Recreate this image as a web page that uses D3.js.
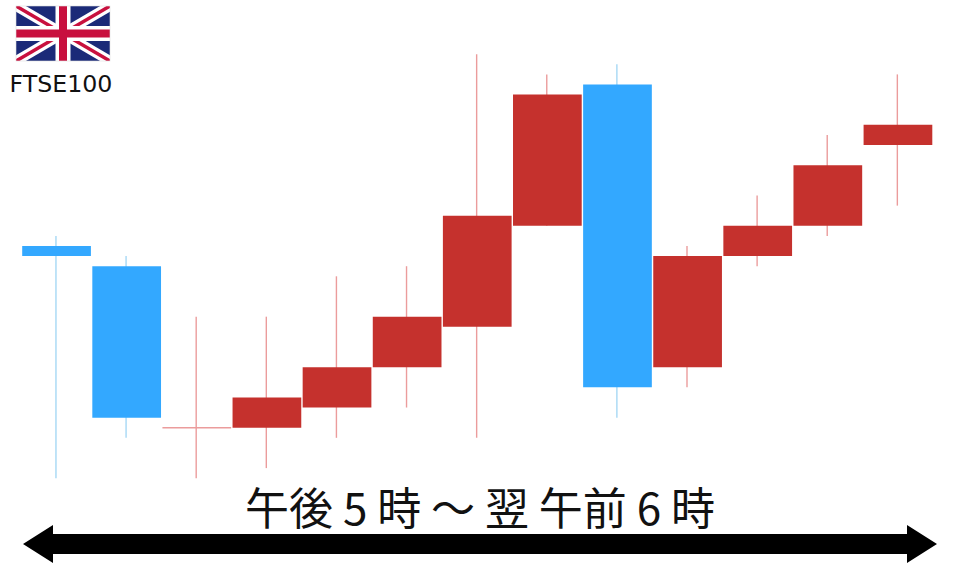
<!DOCTYPE html>
<html lang="ja"><head><meta charset="utf-8">
<script src="https://cdn.jsdelivr.net/npm/d3@7"></script>
<style>html,body{margin:0;padding:0;background:#fff;overflow:hidden}svg{display:block}</style>
</head><body><svg id="c" width="960" height="567"></svg>
<script>
const categories = ["17","18","19","20","21","22","23","0","1","2","3","4","5"];
const opens  = [23,21, 5, 5, 7,11,15,25,39,11,22,25,33];
const closes = [22, 6, 5, 8,11,16,26,38, 9,22,25,31,35];
const highs  = [24,22,16,16,20,21,42,40,41,23,28,34,40];
const lows   = [ 0, 4, 0, 1, 4, 7, 4,25, 6, 9,21,24,27];
const kinds  = ["down","down","up","up","up","up","up","up","down","up","up","up","up"];
const titleText = "午後 5 時 ～ 翌 午前 6 時";
const indexName = "FTSE100";

const BLUE="#33A8FF", RED="#C5312D", BLUEW="#A6D8F5", REDW="#EB9C9C";
const svg=d3.select("#c");
const x=d3.scaleBand().domain(categories).range([21.5,933]).paddingInner(0.02).paddingOuter(0.01);
const y=d3.scaleLinear().domain([0,42]).range([478.2,54.2]);
const candles=categories.map((c,i)=>({c,o:opens[i],cl:closes[i],h:highs[i],l:lows[i],k:kinds[i]}));

const cx=d=>x(d.c)+x.bandwidth()/2-0.6;
svg.append("g").selectAll("line").data(candles).join("line")
  .attr("x1",cx).attr("x2",cx)
  .attr("y1",d=>y(d.h)).attr("y2",d=>y(d.l))
  .attr("stroke",d=>d.k==="up"?REDW:BLUEW).attr("stroke-width",1.4);

svg.append("g").selectAll("path").data(candles).join("path")
  .attr("d",d=>{
    const top=y(Math.max(d.o,d.cl)),bot=y(Math.min(d.o,d.cl));
    return `M${x(d.c)},${top}H${x(d.c)+x.bandwidth()}V${Math.max(bot,top)}H${x(d.c)}Z`;})
  .attr("fill",d=>d.k==="up"?RED:BLUE)
  .attr("stroke",d=>d.o===d.cl?REDW:"none").attr("stroke-width",1.4);

// Flag
const fx=16,fy=6,fw=94,fh=55;
const defs=svg.append("defs");
defs.append("clipPath").attr("id","fc").append("rect").attr("x",fx).attr("y",fy).attr("width",fw).attr("height",fh);
const f=svg.append("g").attr("clip-path","url(#fc)");
f.append("rect").attr("x",fx).attr("y",fy).attr("width",fw).attr("height",fh).attr("fill","#1B2A78");
const diag=[[fx,fy,fx+fw,fy+fh],[fx,fy+fh,fx+fw,fy]];
diag.forEach(l=>f.append("line").attr("x1",l[0]).attr("y1",l[1]).attr("x2",l[2]).attr("y2",l[3]).attr("stroke","#fff").attr("stroke-width",10));
diag.forEach(l=>f.append("line").attr("x1",l[0]).attr("y1",l[1]).attr("x2",l[2]).attr("y2",l[3]).attr("stroke","#C8103E").attr("stroke-width",3.5));
f.append("rect").attr("x",fx+fw/2-7.5).attr("y",fy).attr("width",15).attr("height",fh).attr("fill","#fff");
f.append("rect").attr("x",fx).attr("y",fy+fh/2-7.5).attr("width",fw).attr("height",15).attr("fill","#fff");
f.append("rect").attr("x",fx+fw/2-4).attr("y",fy).attr("width",8).attr("height",fh).attr("fill","#C8103E");
f.append("rect").attr("x",fx).attr("y",fy+fh/2-4).attr("width",fw).attr("height",8).attr("fill","#C8103E");
svg.append("rect").attr("x",fx).attr("y",fy).attr("width",fw).attr("height",fh).attr("fill","none").attr("stroke","#ddd").attr("stroke-width",.6);

svg.append("text").attr("x",61).attr("y",92).attr("text-anchor","middle")
  .attr("font-family","'DejaVu Sans',sans-serif").attr("font-size",23.7).attr("fill","#111").text(indexName);

svg.append("text").attr("x",480).attr("y",525).attr("text-anchor","middle")
  .attr("font-family","'Noto Sans CJK JP',sans-serif").attr("font-weight",400).attr("font-size",44).attr("fill","#111").text(titleText);

// Arrow
svg.append("path").attr("fill","#000").attr("d",d3.line()([[23,544],[53,525],[53,534],[907,534],[907,525],[937,544],[907,563],[907,554],[53,554],[53,563]])+"Z");
</script></body></html>
